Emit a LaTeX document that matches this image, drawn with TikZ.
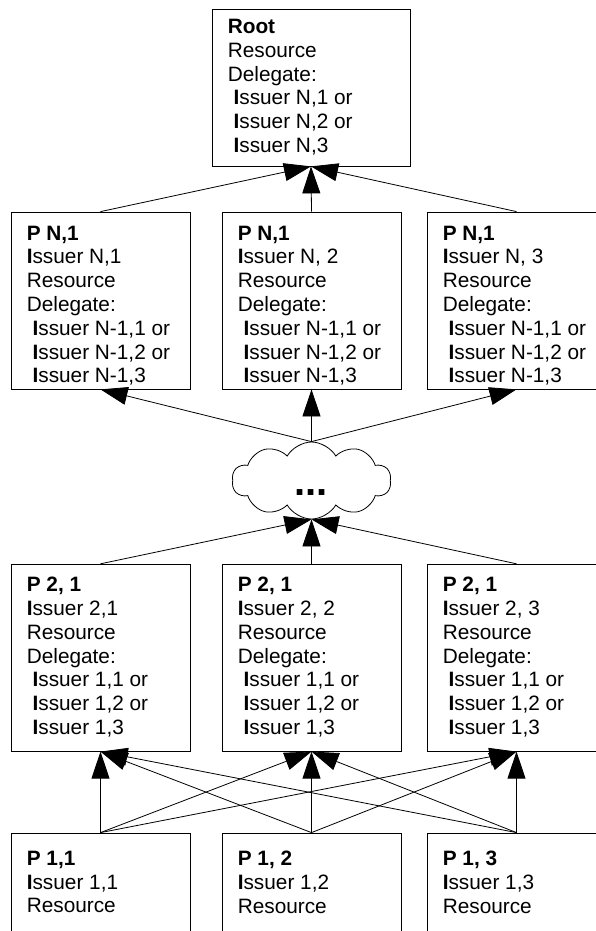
\documentclass[tikz,border=0pt]{standalone}
\usepackage{fontspec}
\setmainfont{Liberation Sans}
\usetikzlibrary{arrows.meta,shapes.symbols,calc}
\newcommand\Iss{\textbf{I}ssuer}
\newcommand\Isi{\hspace*{0.278em}\textbf{I}ssuer}
\begin{document}
\begin{tikzpicture}[x=1pt,y=-1pt,
  pbox/.style={draw, line width=0.8pt, rectangle, inner sep=0pt, minimum width=179pt},
  ptext/.style={anchor=north west, inner sep=0pt, align=left, font=\fontsize{20.8}{23.8}\selectfont},
  conn/.style={line width=0.8pt, -{Triangle[length=27pt,width=18pt]}},
]
\useasboundingbox (0,0) rectangle (596,931);
\fill[white] (0,0) rectangle (596,931);

% root
\node[pbox, minimum width=198pt, minimum height=157pt] (root) at (311,87.5) {};
\node[ptext] (roott) at ($(root.north west)+(16,10.4)$) {\textbf{Root}\\Resource\\Delegate:\\\Isi{} N,1 or\\\Isi{} N,2 or\\\Isi{} N,3};

% row N
\node[pbox, minimum height=177pt] (n1) at (100.5,300.5) {};
\node[pbox, minimum height=177pt] (n2) at (311.5,300.5) {};
\node[pbox, minimum height=177pt] (n3) at (516.5,300.5) {};
\node[ptext] (n1t) at ($(n1.north west)+(16,13.9)$) {\textbf{P N,1}\\\Iss{} N,1\\Resource\\Delegate:\\\Isi{} N-1,1 or\\\Isi{} N-1,2 or\\\Isi{} N-1,3};
\node[ptext] (n2t) at ($(n2.north west)+(16,13.9)$) {\textbf{P N,1}\\\Iss{} N, 2\\Resource\\Delegate:\\\Isi{} N-1,1 or\\\Isi{} N-1,2 or\\\Isi{} N-1,3};
\node[ptext] (n3t) at ($(n3.north west)+(16,13.9)$) {\textbf{P N,1}\\\Iss{} N, 3\\Resource\\Delegate:\\\Isi{} N-1,1 or\\\Isi{} N-1,2 or\\\Isi{} N-1,3};

% cloud
\node[cloud, draw, line width=0.8pt, cloud puffs=10, cloud puff arc=120, aspect=2.06,
      minimum width=159pt, minimum height=77pt, inner sep=0pt] (cloud) at (311.5,480.5) {};
\node[anchor=base, inner sep=0pt, font=\fontsize{40}{44}\selectfont\bfseries] (dots) at (311,495) {...};

% row 2
\node[pbox, minimum height=187pt] (m1) at (100.5,657.7) {};
\node[pbox, minimum height=187pt] (m2) at (311.5,657.7) {};
\node[pbox, minimum height=187pt] (m3) at (516.5,657.7) {};
\node[ptext] (m1t) at ($(m1.north west)+(16,13.1)$) {\textbf{P 2, 1}\\\Iss{} 2,1\\Resource\\Delegate:\\\Isi{} 1,1 or\\\Isi{} 1,2 or\\\Isi{} 1,3};
\node[ptext] (m2t) at ($(m2.north west)+(16,13.1)$) {\textbf{P 2, 1}\\\Iss{} 2, 2\\Resource\\Delegate:\\\Isi{} 1,1 or\\\Isi{} 1,2 or\\\Isi{} 1,3};
\node[ptext] (m3t) at ($(m3.north west)+(16,13.1)$) {\textbf{P 2, 1}\\\Iss{} 2, 3\\Resource\\Delegate:\\\Isi{} 1,1 or\\\Isi{} 1,2 or\\\Isi{} 1,3};

% row 1
\node[pbox, minimum height=200pt] (b1) at (100.5,933) {};
\node[pbox, minimum height=200pt] (b2) at (311.5,933) {};
\node[pbox, minimum height=200pt] (b3) at (516.5,933) {};
\node[ptext] (b1t) at ($(b1.north west)+(16,18.1)$) {\textbf{P 1,1}\\\Iss{} 1,1\\Resource};
\node[ptext] (b2t) at ($(b2.north west)+(16,18.1)$) {\textbf{P 1, 2}\\\Iss{} 1,2\\Resource};
\node[ptext] (b3t) at ($(b3.north west)+(16,18.1)$) {\textbf{P 1, 3}\\\Iss{} 1,3\\Resource};

% connectors
\foreach \n in {n1,n2,n3} \draw[conn] (\n.north) -- (root.south);
\foreach \n in {n1,n2,n3} \draw[conn] (cloud.north) -- (\n.south);
\foreach \n in {m1,m2,m3} \draw[conn] (\n.north) -- (cloud.south);
\foreach \a in {b1,b2,b3} {\foreach \b in {m1,m2,m3} {\draw[conn] (\a.north) -- (\b.south);}}
\end{tikzpicture}
\end{document}
